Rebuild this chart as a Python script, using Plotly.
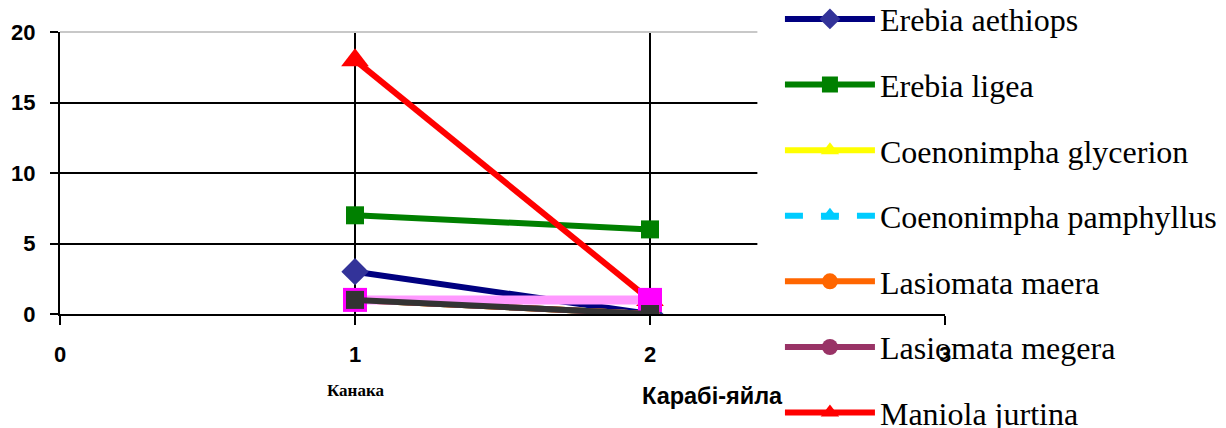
import plotly.graph_objects as go

# Survey sites (x positions 1 and 2) and butterfly counts per species
site_x = [1, 2]
site_names = ["Канака", "Карабі-яйла"]

species = [
    "Erebia aethiops",
    "Erebia ligea",
    "Coenonimpha glycerion",
    "Coenonimpha pamphyllus",
    "Lasiomata maera",
    "Lasiomata megera",
    "Maniola jurtina",
    "Melanargia russiae",
    "Hipparchia fagi",
]

erebia_aethiops = [3, 0]
erebia_ligea = [7, 6]
coenonimpha_glycerion = [1, 0]
coenonimpha_pamphyllus = [1, 0]
lasiomata_maera = [1, 0]
lasiomata_megera = [1, 0]
maniola_jurtina = [18, 1]
melanargia_russiae = [1, 1]
hipparchia_fagi = [1, 0]

values = [
    erebia_aethiops, erebia_ligea, coenonimpha_glycerion, coenonimpha_pamphyllus,
    lasiomata_maera, lasiomata_megera, maniola_jurtina, melanargia_russiae, hipparchia_fagi,
]

x_ticks = [0, 1, 2, 3]
y_ticks = [0, 5, 10, 15, 20]

# line colour, marker colour, marker symbol, marker size, dash, line width, in legend
styles = [
    ("#000080", "#333399", "diamond", 21, "solid", 6, True),
    ("#008000", "#008000", "square", 18, "solid", 6, True),
    ("#FFFF00", "#FFFF00", "triangle-up", 20, "solid", 6, True),
    ("#00CCFF", "#00CCFF", "triangle-up", 20, "dash", 6, True),
    ("#FF6600", "#FF6600", "circle", 20, "solid", 6, True),
    ("#993366", "#993366", "circle", 20, "solid", 6, True),
    ("#FF0000", "#FF0000", "triangle-up", 24, "solid", 6, True),
    ("#FF99FF", "#FF00FF", "square", 24, "solid", 9, False),
    ("#333333", "#333333", "square", 18, "solid", 6, False),
]

fig = go.Figure()
for name, vals, (lc, mc, sym, ms, dash, lw, show) in zip(species, values, styles):
    fig.add_trace(go.Scatter(
        x=site_x, y=vals, name=name, mode="lines+markers",
        line=dict(color=lc, width=lw, dash=dash),
        marker=dict(color=mc, symbol=sym, size=ms, line=dict(width=0)),
        showlegend=show, legendgroup=name,
    ))

tick_font = dict(family="Liberation Sans", size=22, color="black", weight="bold")

fig.update_layout(
    width=1226, height=428,
    margin=dict(l=60, r=281, t=32, b=114, autoexpand=False),
    paper_bgcolor="white", plot_bgcolor="white",
    showlegend=True,
    legend=dict(
        x=0.8135, y=1.143, xanchor="left", yanchor="top",
        bgcolor="rgba(0,0,0,0)",
        font=dict(family="Liberation Serif", size=32, color="black"),
        itemwidth=90, traceorder="grouped", tracegroupgap=21,
        maxheight=700,
    ),
    xaxis=dict(
        range=[0, 3], tickvals=x_ticks, ticktext=[str(v) for v in x_ticks],
        showgrid=True, gridcolor="black", gridwidth=2,
        showline=True, linecolor="black", linewidth=2,
        ticks="outside", ticklen=9, tickwidth=2, tickcolor="black",
        ticklabelstandoff=11, tickfont=tick_font, zeroline=False,
    ),
    yaxis=dict(
        range=[0, 20], tickvals=y_ticks, ticktext=[str(v) for v in y_ticks],
        showgrid=True, gridcolor="black", gridwidth=2,
        showline=True, linecolor="black", linewidth=2,
        ticks="outside", ticklen=8, tickwidth=2, tickcolor="black",
        ticklabelstandoff=10, tickfont=tick_font, zeroline=False,
    ),
    shapes=[
        # light top border of the plot area
        dict(type="line", xref="paper", yref="paper", x0=0, x1=1, y0=1, y1=1,
             line=dict(color="#C8C8C8", width=2), layer="above"),
        # white panel behind the legend, leaving the x axis line visible
        dict(type="rect", xref="paper", yref="paper", x0=0.788, x1=1.4, y0=0.009, y1=1.2,
             fillcolor="white", line=dict(width=0), layer="above"),
    ],
    annotations=[
        dict(x=site_x[0], y=-0.313, xref="x", yref="paper", text=site_names[0],
             showarrow=False, font=dict(family="Liberation Serif", size=17, color="black", weight="bold")),
        dict(x=site_x[1], y=-0.344, xref="x", yref="paper", xshift=62, text=site_names[1],
             showarrow=False, font=dict(family="Liberation Sans", size=23.5, color="black", weight="bold")),
    ],
)

fig.write_html("out.html")
